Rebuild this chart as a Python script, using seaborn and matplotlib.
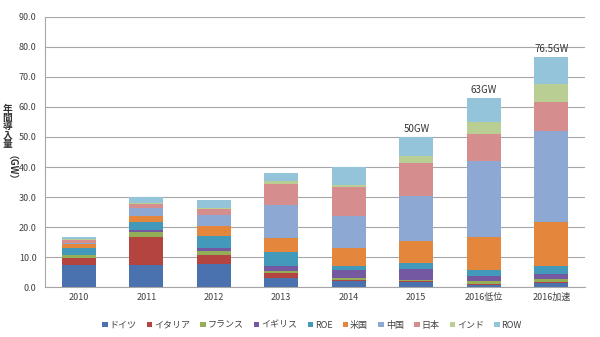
import numpy as np
import pandas as pd
import matplotlib
matplotlib.use("Agg")
import matplotlib.pyplot as plt
from matplotlib.patches import Patch
import seaborn as sns

categories = ["2010", "2011", "2012", "2013", "2014", "2015", "2016低位", "2016加速"]
series_names = ["ドイツ", "イタリア", "フランス", "イギリス", "ROE", "米国", "中国", "日本", "インド", "ROW"]

germany = [7.4, 7.5, 7.6, 3.1, 1.9, 1.6, 0.8, 1.3]
italy = [2.3, 9.2, 3.2, 1.6, 0.4, 0.3, 0.4, 0.3]
france = [0.9, 1.5, 1.1, 0.6, 0.8, 0.5, 0.8, 1.2]
uk = [0.2, 0.7, 1.0, 1.6, 2.5, 3.5, 1.6, 1.6]
roe = [2.1, 2.9, 4.2, 4.7, 1.3, 2.1, 2.2, 2.8]
usa = [1.3, 2.0, 3.3, 4.9, 6.1, 7.5, 10.9, 14.5]
china = [0.6, 2.4, 3.7, 10.8, 10.8, 14.8, 25.3, 30.3]
japan = [1.0, 1.6, 1.9, 6.9, 9.5, 11.0, 8.9, 9.7]
india = [0.3, 0.2, 0.4, 1.1, 0.7, 2.3, 4.1, 6.1]
row = [0.6, 2.0, 2.7, 2.6, 6.0, 6.4, 8.0, 8.7]

total_labels = {5: "50GW", 6: "63GW", 7: "76.5GW"}

yticks = [0, 10, 20, 30, 40, 50, 60, 70, 80, 90]

colors = ["#4A72AE", "#B4443F", "#93AE57", "#7458A0", "#4299BA",
          "#E4863C", "#8EA8D4", "#D58D8E", "#B9CE93", "#93C4D9"]

series_values = [germany, italy, france, uk, roe, usa, china, japan, india, row]

sns.set_theme(style="white")
plt.rcParams["font.family"] = ["Noto Sans CJK JP", "DejaVu Sans"]

fig = plt.figure(figsize=(6.0, 3.37), dpi=100)
ax = fig.add_axes([0.075, 0.148, 0.90, 0.802])

cum = np.zeros(len(categories))
for name, vals, col in zip(series_names, series_values, colors):
    df = pd.DataFrame({"cat": categories, "val": vals})
    sns.barplot(data=df, x="cat", y="val", order=categories, color=col,
                width=0.51, errorbar=None, bottom=cum.copy(), ax=ax,
                linewidth=0, saturation=1)
    cum = cum + np.array(vals)

for i, lab in total_labels.items():
    ax.text(i, cum[i] + 1.0, lab, ha="center", va="bottom", fontsize=7, color="#333333")

ax.set_xlim(-0.5, len(categories) - 0.5)
ax.set_ylim(0, 90)
ax.set_yticks(yticks)
ax.set_yticklabels([f"{v:.1f}" for v in yticks])
ax.yaxis.grid(True, color="#A6A6A6", linewidth=0.8)
ax.set_axisbelow(True)
ax.tick_params(axis="both", labelsize=6.5, colors="#404040", length=0, pad=4)
ax.tick_params(axis="y", length=3, color="#A6A6A6", direction="out", pad=3)
for s in ["top", "right"]:
    ax.spines[s].set_visible(False)
for s in ["left", "bottom"]:
    ax.spines[s].set_color("#A6A6A6")
    ax.spines[s].set_linewidth(0.8)
ax.set_xlabel("")
ax.set_ylabel("")

fig.text(0.004, 0.692, "年\n間\n導\n入\n量", ha="left", va="top", fontsize=7,
         fontweight="bold", color="#333333", linespacing=0.85)
fig.text(0.003, 0.54, "（GW）", ha="left", va="top", fontsize=7,
         fontweight="bold", color="#333333", rotation=270)

handles = [Patch(facecolor=c, edgecolor="none", label=n) for n, c in zip(series_names, colors)]
fig.legend(handles=handles, loc="center", bbox_to_anchor=(0.52, 0.035), ncol=10,
           frameon=False, fontsize=6.5, handlelength=0.6, handleheight=0.6,
           handletextpad=0.2, columnspacing=1.15, labelcolor="#404040")

fig.savefig("out.png", dpi=100)
